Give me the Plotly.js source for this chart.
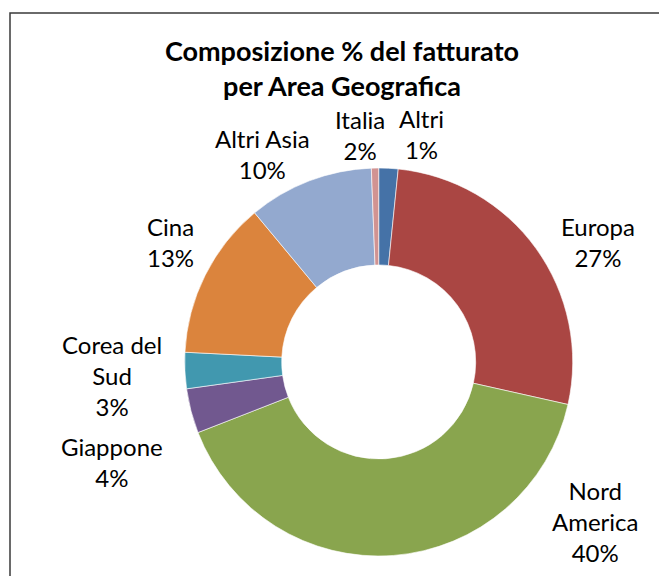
<!DOCTYPE html>
<html>
<head>
<meta charset="utf-8">
<script src="https://cdn.plot.ly/plotly-3.0.1.min.js"></script>
<style>html,body{margin:0;padding:0;background:#fff;}#chart{width:659px;height:576px;}</style>
</head>
<body>
<div id="chart"></div>
<script>
// Data (clockwise from 12 o'clock)
const categories = ['Italia', 'Europa', 'Nord America', 'Giappone', 'Corea del Sud', 'Cina', 'Altri Asia', 'Altri'];
const shares = [1.6, 26.8, 40.4, 3.7, 3.0, 13.1, 10.4, 0.6];
const pctLabels = ['2%', '27%', '40%', '4%', '3%', '13%', '10%', '1%'];
const labelLines = ['Italia', 'Europa', 'Nord<br>America', 'Giappone', 'Corea del<br>Sud', 'Cina', 'Altri Asia', 'Altri'];
const colors = ['#4572A7', '#AA4643', '#89A54E', '#71588F', '#4198AF', '#DB843D', '#93A9CF', '#D19392'];

// Label positions in pixels (layout only)
const labelPos = [
  [360, 135], [598, 242], [595, 521], [112, 462], [112, 375], [170, 242], [262, 154], [421, 134]
];

const W = 659, H = 576;
const cx = 378.7, cy = 362, R = 194;

const annotations = categories.map((c, i) => ({
  text: labelLines[i] + '<br>' + pctLabels[i],
  x: labelPos[i][0] / W, y: 1 - labelPos[i][1] / H,
  xref: 'paper', yref: 'paper', xanchor: 'center', yanchor: 'middle',
  showarrow: false, align: 'center',
  font: {family: 'Lato, "Open Sans", sans-serif', size: 24, color: '#000'}
}));

const trace = {
  type: 'pie',
  labels: categories,
  values: shares,
  hole: 0.5,
  sort: false,
  direction: 'clockwise',
  rotation: 0,
  textinfo: 'none',
  hoverinfo: 'label+percent',
  marker: {colors: colors, line: {color: '#ffffff', width: 0.6}},
  domain: {x: [(cx - R) / W, (cx + R) / W], y: [(H - cy - R) / H, (H - cy + R) / H]},
  showlegend: false
};

const layout = {
  width: W, height: H,
  margin: {l: 0, r: 0, t: 0, b: 0},
  paper_bgcolor: '#ffffff',
  title: {
    text: '<b>Composizione % del fatturato<br>per Area Geografica</b>',
    x: 342 / W, xanchor: 'center', xref: 'paper',
    y: 1 - 61 / H, yanchor: 'middle', yref: 'container',
    font: {family: 'Lato, "Open Sans", sans-serif', size: 27, color: '#000'}
  },
  annotations: annotations,
  shapes: [{
    type: 'rect', xref: 'paper', yref: 'paper',
    x0: 10 / W, x1: 1.05, y0: -0.05, y1: 1 - 13 / H,
    line: {color: '#3a3a3a', width: 1.5}, fillcolor: 'rgba(0,0,0,0)'
  }]
};

Plotly.newPlot('chart', [trace], layout, {displayModeBar: false, staticPlot: true});
</script>
</body>
</html>
